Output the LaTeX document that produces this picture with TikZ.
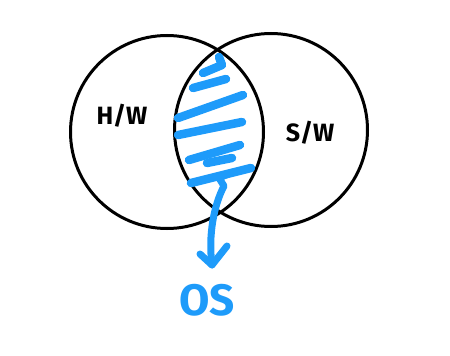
\documentclass[tikz,border=0pt]{standalone}
\usepackage{fontspec}
\setmainfont{Fira Sans}
\usetikzlibrary{arrows.meta}
\definecolor{marker}{RGB}{30,155,250}
\tikzset{
  setcircle/.style={circle, draw=black, line width=3pt, minimum size=193pt, inner sep=0pt},
  label/.style={font=\fontsize{25}{25}\selectfont\bfseries, text=black},
  hatch/.style={draw=marker, line width=8.5pt, line cap=round, line join=round},
}
\begin{document}
\begin{tikzpicture}[x=1pt,y=-1pt]
  \useasboundingbox (0,0) rectangle (450,356);
  % the two overlapping sets
  \node[setcircle] (hw) at (167,132) {};
  \node[setcircle] (sw) at (271,130) {};
  % shaded overlap, scribbled in marker
  \path[hatch] (219,57) -- (222,65) -- (203,73);
  \path[hatch] (193,88) -- (226,79);
  \path[hatch] (178,118) -- (243,95);
  \path[hatch] (178,135) -- (242,122);
  \path[hatch] (189,160) -- (240,145);
  \path[hatch] (207,163) -- (232,158);
  \path[hatch] (191,183) -- (251,168);
  \node[label] (hwl) at (122,116) {H/W};
  \node[label] (swl) at (310,133) {S/W};
  \node[font=\fontsize{44}{44}\selectfont\bfseries, text=marker] (os) at (207,300) {OS};
  \coordinate (lens) at (233,172);
  \coordinate (tip) at (212,265);
  % arrow from the overlap down to its label
  \draw[hatch, line width=7pt] (lens) -- (219,178) -- (224,186)
    .. controls (214,205) and (208,235) .. (tip);
  \draw[hatch, line width=7pt] (200,254) -- (tip) -- (227,246);
\end{tikzpicture}
\end{document}
